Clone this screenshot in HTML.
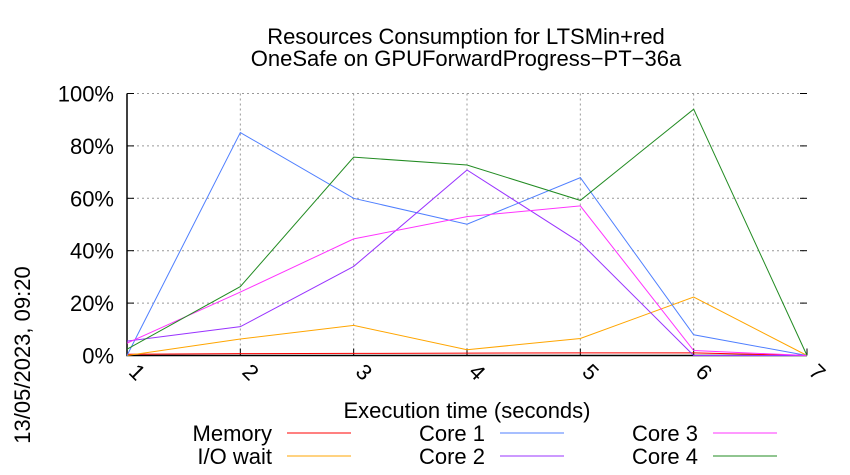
<!DOCTYPE html>
<html><head><meta charset="utf-8"><style>
body{margin:0;background:#fff;}
svg{display:block;font-family:"Liberation Sans",sans-serif;}
</style></head><body>
<svg id="chart" width="850" height="475" viewBox="0 0 850 475">
<text x="466" y="44" font-size="22" text-anchor="middle">Resources Consumption for LTSMin+red</text>
<text x="466" y="66" font-size="22" text-anchor="middle">OneSafe on GPUForwardProgress−PT−36a</text>
<text transform="translate(30,355) rotate(-90)" font-size="22" text-anchor="middle">13/05/2023, 09:20</text>
<text x="467" y="418" font-size="22" text-anchor="middle">Execution time (seconds)</text>
<g id="grid"></g><g id="axes"></g><g id="series"></g><g id="legend"></g>
</svg>
<script>
const xCats=[1,2,3,4,5,6,7];
const yTicks=[0,20,40,60,80,100];
const yTickLabels=["0%","20%","40%","60%","80%","100%"];
const memory=[0.5,0.7,0.8,0.9,1,1,0];
const ioWait=[0,6.3,11.5,2.2,6.5,22.3,0];
const core1=[0,85.1,60,50.1,67.9,7.9,0];
const core2=[5.5,11,34,70.8,43.1,0,0];
const core3=[4.7,24.2,44.5,53,57.1,1.9,0];
const core4=[2.4,26.3,75.7,72.7,59.2,94,0];
const seriesNames=["Memory","I/O wait","Core 1","Core 2","Core 3","Core 4"];
const NS="http://www.w3.org/2000/svg";
const L=127,R=807,T=93.5,B=355.5;
const xs=v=>L+(v-1)*(R-L)/6;
const ys=v=>B-v*(B-T)/100;
function mk(tag,attrs,parent){const e=document.createElementNS(NS,tag);for(const k in attrs)e.setAttribute(k,attrs[k]);parent.appendChild(e);return e;}
const grid=document.getElementById('grid'),axes=document.getElementById('axes'),ser=document.getElementById('series'),leg=document.getElementById('legend');
yTicks.forEach((t,i)=>{
 if(t>0){const g=mk('line',{x1:L,x2:R,y1:ys(t),y2:ys(t),stroke:'#999','stroke-dasharray':'2,3','stroke-width':1},grid);
 
 }
 const tk=mk('line',{x1:L,x2:L+7,y1:ys(t),y2:ys(t),stroke:'#000'},axes);
 
 
 const tk2=mk('line',{x1:R-7,x2:R,y1:ys(t),y2:ys(t),stroke:'#000'},axes);
 
 
 const tx=mk('text',{x:L-13,y:ys(t)+8,'font-size':22,'text-anchor':'end'},axes);
 tx.textContent=yTickLabels[i];
 
 
});
xCats.forEach(c=>{
 if(c>1&&c<7){const g=mk('line',{x1:xs(c),x2:xs(c),y1:T,y2:B,stroke:'#999','stroke-dasharray':'2,3','stroke-width':1},grid);
 
 }
 const tk=mk('line',{x1:xs(c),x2:xs(c),y1:B,y2:B-7,stroke:'#000'},axes);
 
 
 const tx=mk('text',{transform:`translate(${xs(c)+5},${B+22}) rotate(45)`,'font-size':22,'text-anchor':'middle'},axes);
 tx.textContent=c;
 
 
});
const ax=mk('path',{d:`M${L},${T}V${B}H${R}`,fill:'none',stroke:'#000','stroke-width':1.5},axes);


const data=[memory,ioWait,core1,core2,core3,core4];
const colors=['#ff0000','#ffa500','#4f7fff','#9933ff','#ff33ff','#228b22'];
data.forEach((d,i)=>{
 const p=mk('polyline',{points:d.map((v,j)=>xs(xCats[j])+','+ys(v)).join(' '),fill:'none',stroke:colors[i],'stroke-width':1},ser);
 
 
 const col=Math.floor(i/2),row=i%2;
 const tx=mk('text',{x:272+col*213,y:441+row*23,'font-size':22,'text-anchor':'end'},leg);
 tx.textContent=seriesNames[i];
 
 
 const ln=mk('line',{x1:287+col*213,x2:351+col*213,y1:433+row*23,y2:433+row*23,stroke:colors[i],'stroke-width':1},leg);
 
 
});
</script>
</body></html>
